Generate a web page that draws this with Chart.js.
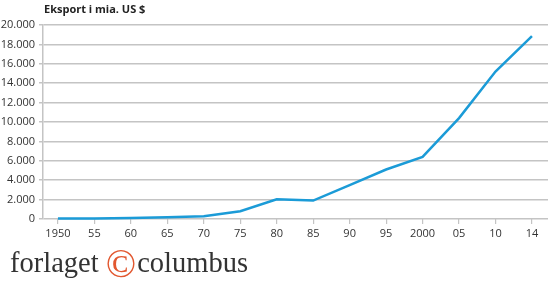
<!DOCTYPE html>
<html>
<head>
<meta charset="utf-8">
<script src="https://cdn.jsdelivr.net/npm/chart.js@4"></script>
<style>
  body { margin: 0; background: #fff; width: 550px; height: 281px; overflow: hidden; position: relative; }
  #wrap { position: absolute; left: 0; top: 0; width: 550px; height: 245px; }
  #title { position: absolute; left: 44px; top: 1px; font: bold 11px "Open Sans", sans-serif; color: #222; }
  #logo { position: absolute; left: 10px; top: 240px; font: 28.5px "Liberation Serif", serif; color: #333; white-space: nowrap; }
  #logo .c { color: #e2572f; font-size: 40px; vertical-align: -5px; margin: 0 1px 0 0; }
</style>
</head>
<body>
<div id="wrap"><canvas id="exportChart"></canvas></div>
<div id="title">Eksport i mia. US $</div>
<div id="logo">forlaget <span class="c">©</span>columbus</div>
<script>
const yearLabels = ["1950", "55", "60", "65", "70", "75", "80", "85", "90", "95", "2000", "05", "10", "14"];
const exportValues = [40, 60, 110, 170, 280, 800, 2030, 1900, 3500, 5100, 6400, 10400, 15200, 18850];
const yTicks = [0, 2000, 4000, 6000, 8000, 10000, 12000, 14000, 16000, 18000, 20000];

const fmt = (v) => v.toString().replace(/\B(?=(\d{3})+(?!\d))/g, ".");
const gridGray = "#c4c4c4";

const ctx = document.getElementById("exportChart").getContext("2d");

new Chart(ctx, {
  type: "line",
  data: {
    datasets: [
      {
        data: exportValues.map((v, i) => ({ x: i, y: v })),
        borderColor: "#1b9bd7",
        borderWidth: 2.5,
        pointRadius: 0,
        tension: 0,
        clip: false,
      },
    ],
  },
  options: {
    responsive: true,
    maintainAspectRatio: false,
    animation: false,
    layout: { padding: { top: 25, right: 2, left: 0, bottom: 0 } },
    plugins: { legend: { display: false }, tooltip: { enabled: false } },
    scales: {
      x: {
        type: "linear",
        min: -0.41,
        max: 13.44,
        afterBuildTicks: (scale) => {
          scale.ticks = yearLabels.map((_, i) => ({ value: i }));
        },
        afterFit: (scale) => { scale.height = 26; },
        ticks: {
          callback: (v) => yearLabels[v],
          color: "#333",
          font: { family: "Open Sans", size: 11 },
          padding: 3,
          maxRotation: 0,
          autoSkip: false,
        },
        grid: { drawOnChartArea: false, drawTicks: true, tickLength: 5, color: gridGray, lineWidth: 1.2 },
        border: { display: false },
      },
      y: {
        min: 0,
        max: 20000,
        afterBuildTicks: (scale) => {
          scale.ticks = yTicks.map((v) => ({ value: v }));
        },
        afterFit: (scale) => { scale.width = 43; },
        ticks: {
          callback: (v) => fmt(v),
          color: "#333",
          font: { family: "Open Sans", size: 11 },
          padding: 4,
        },
        grid: { color: gridGray, lineWidth: 1.5, tickLength: 4 },
        border: { color: gridGray, width: 1.5 },
      },
    },
  },
});
</script>
</body>
</html>
